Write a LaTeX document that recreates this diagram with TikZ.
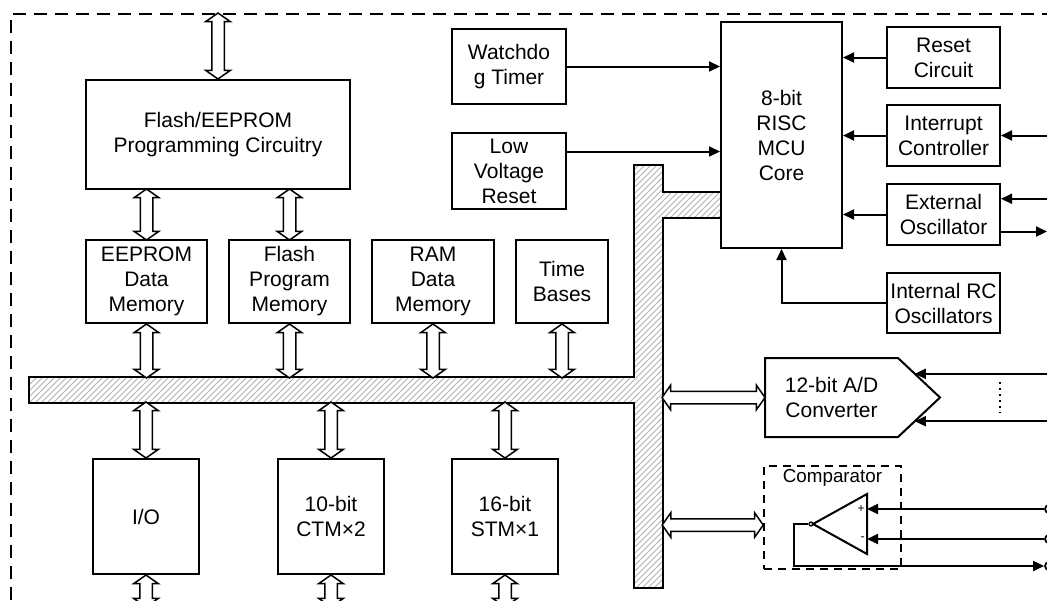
\documentclass[tikz,border=0pt]{standalone}
\usepackage{fontspec}
\setmainfont{Liberation Sans}
\usetikzlibrary{arrows.meta,positioning,calc,shapes.arrows,patterns}
\newcommand{\blkfont}{\fontsize{10.5}{12.5}\selectfont}
\newcommand{\lblfont}{\fontsize{9.4}{10}\selectfont}
\newcommand{\pinfont}{\fontsize{6}{6}\selectfont}
\tikzset{
  blk/.style={draw, line width=1pt, align=center, inner sep=0pt, font=\blkfont},
  fat/.style={double arrow, draw, fill=white, line width=0.75pt, inner xsep=0pt, inner ysep=2.75pt,
    double arrow head extend=3pt, double arrow tip angle=110},
  bus/.style={draw, line width=0.9pt, pattern=north east lines, pattern color=gray!60},
  wire/.style={line width=1pt},
  term/.style={circle, draw, line width=0.9pt, inner sep=0pt, minimum size=4pt},
}

\begin{document}
\begin{tikzpicture}[x=0.5pt, y=-0.5pt, >={Triangle[length=5.5pt,width=5pt]}]
  \useasboundingbox (0,0) rectangle (1047,600);
  % chip border
  \draw[dash pattern=on 6.5pt off 4pt, line width=0.8pt] (11,600) -- (11,14) -- (1047,14);
  % internal bus
  \draw[bus] (29,377) -- (634,377) -- (634,165) -- (663,165) -- (663,192) -- (721,192)
    -- (721,218) -- (663,218) -- (663,588) -- (634,588) -- (634,403) -- (29,403) -- cycle;

  % blocks
  \node[blk, minimum width=132pt, minimum height=54.5pt] (prog) at (218,134.5) {Flash/EEPROM\\Programming Circuitry};
  \node[blk, minimum width=60.5pt, minimum height=41.5pt] (eeprom) at (146.5,281.5) {EEPROM\\Data\\Memory};
  \node[blk, minimum width=60.5pt, minimum height=41.5pt] (flash) at (289.5,281.5) {Flash\\Program\\Memory};
  \node[blk, minimum width=61pt, minimum height=41.5pt] (ram) at (433,281.5) {RAM\\Data\\Memory};
  \node[blk, minimum width=46pt, minimum height=41.5pt] (tb) at (562,281.5) {Time\\Bases};
  \node[blk, minimum width=53pt, minimum height=57.5pt] (io) at (146,516.5) {I/O};
  \node[blk, minimum width=53pt, minimum height=57.5pt] (ctm) at (331,516.5) {10-bit\\CTM×2};
  \node[blk, minimum width=53pt, minimum height=57.5pt] (stm) at (505,516.5) {16-bit\\STM×1};
  \node[blk, minimum width=57pt, minimum height=37.5pt] (wdt) at (509,66.5) {Watchdo\\g Timer};
  \node[blk, minimum width=57pt, minimum height=38pt] (lvr) at (509,171) {Low\\Voltage\\Reset};
  \node[blk, minimum width=60.5pt, minimum height=113pt] (mcu) at (781.5,135) {8-bit\\RISC\\MCU\\Core};
  \node[blk, minimum width=56.5pt, minimum height=30.5pt] (rst) at (943.5,57.5) {Reset\\Circuit};
  \node[blk, minimum width=56.5pt, minimum height=30.5pt] (intc) at (943.5,135.5) {Interrupt\\Controller};
  \node[blk, minimum width=56.5pt, minimum height=30.5pt] (xosc) at (943.5,214.5) {External\\Oscillator};
  \node[blk, minimum width=56.5pt, minimum height=30pt] (irc) at (943.5,303) {Internal RC\\Oscillators};
  \node[blk, draw=none, minimum width=65.5pt, minimum height=38.5pt] (adc) at (831.5,397.5) {12-bit A/D\\Converter};
  \node[blk, dash pattern=on 4pt off 3pt, line width=0.8pt, minimum width=68.5pt, minimum height=51.5pt] (cmp) at (832.5,517.5) {};
  \node[font=\lblfont, inner sep=1pt, below=1pt of cmp.north] (cmplbl) {Comparator};

  \coordinate (rim) at (1047,0);
  \coordinate (adctip) at (940,397.5);
  \coordinate (ampin) at (867,524);
  \coordinate (fb) at (794,566);
  \coordinate (lvrout) at ($(lvr.north east)!0.25!(lvr.south east)$);
  \coordinate (xoscin) at ($(xosc.north east)!0.25!(xosc.south east)$);
  \coordinate (xoscout) at ($(xosc.north east)!0.77!(xosc.south east)$);
  \coordinate (adcin1) at ($(adc.north east)!0.4!(adctip)$);
  \coordinate (adcin2) at ($(adc.south east)!0.4!(adctip)$);

  % A/D outline
  \draw[line width=1pt] (adc.north west) -- (adc.north east) -- (adctip) -- (adc.south east) -- (adc.south west) -- cycle;
  \draw[dotted, line width=1pt] (1000,382) -- (1000,413);

  % comparator
  \draw[wire] ([yshift=15pt]ampin) -- ([yshift=-15pt]ampin) -- ([xshift=-27pt]ampin) -- cycle;
  \node[circle, draw, line width=0.6pt, inner sep=0pt, minimum size=2pt] (bub) at ([xshift=-28pt]ampin) {};
  \node[font=\pinfont, anchor=east, inner sep=1pt] (plus) at ([yshift=7.5pt]ampin) {+};
  \node[font=\pinfont, anchor=east, inner sep=1pt] (minus) at ([yshift=-7.5pt]ampin) {-};
  \node[term] (t1) at (1049,509) {};
  \node[term] (t2) at (1049,539) {};
  \node[term] (t3) at (1049,566) {};

  % fat bus arrows
  \node[fat, rotate=90, minimum height=33pt] (a0) at ([yshift=16.5pt]prog.north) {};
  \node[fat, rotate=90, minimum height=25.5pt] (a1) at ($(prog.south -| eeprom)!0.5!(eeprom.north)$) {};
  \node[fat, rotate=90, minimum height=25.5pt] (a2) at ($(prog.south -| flash)!0.5!(flash.north)$) {};
  \node[fat, rotate=90, minimum height=27pt] (a3) at ([yshift=-13.5pt]eeprom.south) {};
  \node[fat, rotate=90, minimum height=27pt] (a4) at ([yshift=-13.5pt]flash.south) {};
  \node[fat, rotate=90, minimum height=27pt] (a5) at ([yshift=-13.5pt]ram.south) {};
  \node[fat, rotate=90, minimum height=27pt] (a6) at ([yshift=-13.5pt]tb.south) {};
  \node[fat, rotate=90, minimum height=28pt] (a7) at ([yshift=14pt]io.north) {};
  \node[fat, rotate=90, minimum height=28pt] (a8) at ([yshift=14pt]ctm.north) {};
  \node[fat, rotate=90, minimum height=28pt] (a9) at ([yshift=14pt]stm.north) {};
  \node[fat, rotate=90, minimum height=16pt] (a10) at ([yshift=-8pt]io.south) {};
  \node[fat, rotate=90, minimum height=16pt] (a11) at ([yshift=-8pt]ctm.south) {};
  \node[fat, rotate=90, minimum height=16pt] (a12) at ([yshift=-8pt]stm.south) {};
  \node[fat, minimum height=51.5pt] (a13) at ([xshift=-25.75pt]adc.west) {};
  \node[fat, minimum height=50.5pt] (a14) at ([xshift=-25.25pt,yshift=-3.75pt]cmp.west) {};

  % control signals
  \draw[wire,->] (wdt.east) -- (wdt.east -| mcu.west);
  \draw[wire,->] (lvrout) -- (lvrout -| mcu.west);
  \draw[wire,->] (rst.west) -- (rst.west -| mcu.east);
  \draw[wire,->] (intc.west) -- (intc.west -| mcu.east);
  \draw[wire,->] (xosc.west) -- (xosc.west -| mcu.east);
  \draw[wire,->] (irc.west) -| (mcu.south);
  \draw[wire,->] (intc.east -| rim) -- (intc.east);
  \draw[wire,->] (xoscin -| rim) -- (xoscin);
  \draw[wire,->] (xoscout) -- (xoscout -| rim);
  \draw[wire,->] (adcin1 -| rim) -- (adcin1);
  \draw[wire,->] (adcin2 -| rim) -- (adcin2);
  \draw[wire,->] (t1.west) -- (t1.west -| ampin);
  \draw[wire,->] (t2.west) -- (t2.west -| ampin);
  \draw[wire,->] (bub.west) -| (fb) -- (t3.west);
\end{tikzpicture}
\end{document}
